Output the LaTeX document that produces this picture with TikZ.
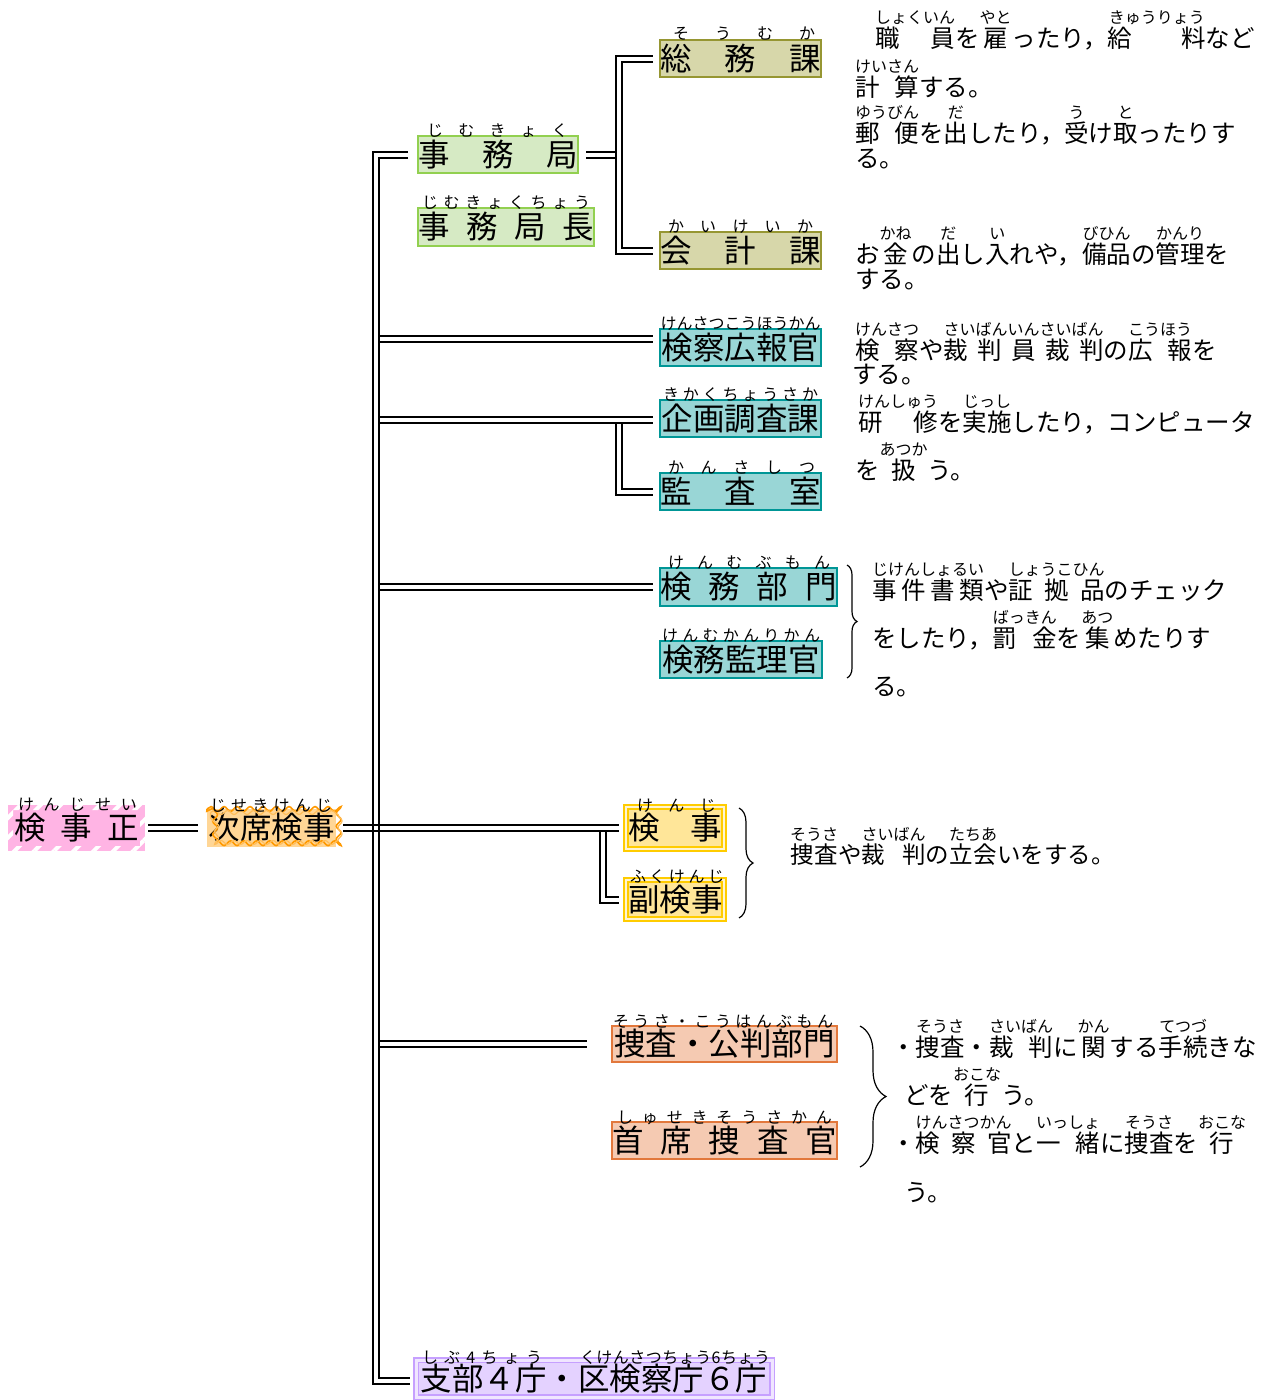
\documentclass[tikz,border=0pt]{standalone}
\usepackage{fontspec}
\setmainfont{Noto Sans CJK JP}
\usetikzlibrary{calc,decorations.pathmorphing,decorations.pathreplacing,patterns.meta}
\definecolor{gfill}{RGB}{214,234,196}
\definecolor{gline}{RGB}{146,208,80}
\definecolor{kfill}{RGB}{215,215,170}
\definecolor{kline}{RGB}{150,150,50}
\definecolor{tfill}{RGB}{153,214,214}
\definecolor{tline}{RGB}{0,150,150}
\definecolor{yline}{RGB}{255,204,0}
\definecolor{yfill}{RGB}{255,230,153}
\definecolor{ymid}{RGB}{255,244,210}
\definecolor{ofill}{RGB}{245,202,178}
\definecolor{oline}{RGB}{226,120,60}
\definecolor{pfill}{RGB}{228,210,255}
\definecolor{pline}{RGB}{198,160,255}
\definecolor{pmid}{RGB}{240,230,255}
\definecolor{pnkfill}{RGB}{255,180,228}
\definecolor{jfill}{RGB}{255,214,150}
\definecolor{jline}{RGB}{255,153,0}
\definecolor{jlinetwo}{RGB}{255,190,90}
\newcommand\labfont{\fontsize{31.5pt}{31.5pt}\selectfont}
\newcommand\rubyfont{\fontsize{16pt}{16pt}\selectfont}
\newcommand\descfont{\fontsize{24.5pt}{24.5pt}\selectfont}
\newcommand\descfontb{\fontsize{23.5pt}{23.5pt}\selectfont}
% \rbx{width}{base with \hfill}{ruby}
\newcommand\rbx[3]{\hbox to #1pt{\rlap{\raise23.7pt\hbox to #1pt{\hss\rubyfont #3\hss}}#2}}
\newcommand\mkbox[8]{\node[#6, minimum width={#4-#2-2*#7}, minimum height={#5-#3-2*#7}] (#1) at ({(#2+#4)/2},{(#3+#5)/2}) {#8};}
\tikzset{
 lab/.style={inner sep=0pt, outer sep=0pt, font=\labfont, text height=27.7pt, text depth=3.8pt},
 gbox/.style={lab, fill=gfill, draw=gline, line width=2pt},
 kbox/.style={lab, fill=kfill, draw=kline, line width=2pt},
 tbox/.style={lab, fill=tfill, draw=tline, line width=2pt},
 obox/.style={lab, fill=ofill, draw=oline, line width=2pt},
 ybox/.style={lab, fill=yfill, draw=yline, line width=2pt, double=ymid, double distance=2pt},
 pbox/.style={lab, fill=pfill, draw=pline, line width=1.5pt, double=pmid, double distance=3pt},
 pkbox/.style={lab, fill=pnkfill},
 jbox/.style={lab, fill=jfill},
 rb/.style={inner sep=0pt, font=\rubyfont, text height=14.1pt, text depth=1.9pt},
 desc/.style={anchor=base west, inner sep=0pt, yshift=-9.3pt, font=\descfont},
 descb/.style={anchor=base west, inner sep=0pt, yshift=-8.9pt, font=\descfontb},
 dbl/.style={draw=black, line width=2pt, double=white, double distance=4pt},
 sgl/.style={draw=black, line width=2pt},
 brc/.style={draw=black, line width=1.2pt, decorate, decoration={brace, amplitude=#1}},
 wave/.style={decorate, decoration={snake, segment length=13pt, amplitude=#1}},
}
\begin{document}
\begin{tikzpicture}[x=1pt,y=-1pt]
\useasboundingbox (0,0) rectangle (1267,1400);
\fill[white] (0,0) rectangle (1267,1400);
% boxes
\mkbox{ksei}{8}{805}{145}{851}{pkbox}{0}{\makebox[125pt][s]{検\hfill 事\hfill 正}}
\fill[pattern={Lines[angle=45,distance=14pt,line width=4pt]}, pattern color=white, even odd rule] (ksei.north west) rectangle (ksei.south east) ($(ksei.north west)+(5,5)$) rectangle ($(ksei.south east)+(-5,-5)$);
\mkbox{jiseki}{207}{809}{336}{847}{jbox}{0}{\makebox[128pt][s]{\hfil 次席検事\hfil}}
\draw[jline, line width=1.6pt, wave=2.4pt] (jiseki.north west) -- (jiseki.north east) -- (jiseki.south east) -- (jiseki.south west) -- cycle;
\draw[jlinetwo, line width=1.2pt, wave=2pt] ($(jiseki.north west)+(3.5,3.5)$) -- ($(jiseki.north east)+(-3.5,3.5)$) -- ($(jiseki.south east)+(-3.5,-3.5)$) -- ($(jiseki.south west)+(3.5,-3.5)$) -- cycle;
\mkbox{jimu}{417}{135}{579}{174}{gbox}{1}{\makebox[160pt][s]{事\hfill 務\hfill 局}}
\mkbox{jimucho}{417}{207}{595}{247}{gbox}{1}{\makebox[176pt][s]{事\hfill 務\hfill 局\hfill 長}}
\mkbox{soumu}{659}{39}{822}{78}{kbox}{1}{\makebox[161pt][s]{総\hfill 務\hfill 課}}
\mkbox{kaikei}{659}{231}{822}{270}{kbox}{1}{\makebox[161pt][s]{会\hfill 計\hfill 課}}
\mkbox{kouhou}{659}{328}{822}{367}{tbox}{1}{\makebox[161pt][s]{\hfil 検察広報官\hfil}}
\mkbox{kikaku}{659}{399}{822}{438}{tbox}{1}{\makebox[161pt][s]{\hfil 企画調査課\hfil}}
\mkbox{kansa}{659}{472}{822}{511}{tbox}{1}{\makebox[161pt][s]{監\hfill 査\hfill 室}}
\mkbox{kenmu}{659}{567}{838}{607}{tbox}{1}{\makebox[177pt][s]{検\hfill 務\hfill 部\hfill 門}}
\mkbox{kanri}{659}{640}{823}{679}{tbox}{1}{\makebox[162pt][s]{\hfil 検務監理官\hfil}}
\mkbox{kenji}{623}{804}{727}{852}{ybox}{3}{\makebox[94pt][s]{検\hfill 事}}
\mkbox{fuku}{623}{877}{727}{922}{ybox}{3}{\makebox[94pt][s]{\hfil 副検事\hfil}}
\mkbox{sousa}{611}{1025}{838}{1063}{obox}{1}{\makebox[225pt][s]{\hfil 捜査・公判部門\hfil}}
\mkbox{shuseki}{611}{1121}{838}{1160}{obox}{1}{\makebox[225pt][s]{首\hfill 席\hfill 捜\hfill 査\hfill 官}}
\mkbox{shibu}{413}{1357}{775}{1400}{pbox}{3}{\makebox[352pt][s]{\hfil 支部４庁・区検察庁６庁\hfil}}
% box ruby
\node[rb] (r1) at (77.5,804) {\makebox[119pt][s]{け\hfill ん\hfill じ\hfill せ\hfill い}};
\node[rb] (r2) at (271,805) {\makebox[122pt][s]{じ\hfill せ\hfill き\hfill け\hfill ん\hfill じ}};
\node[rb] (r3) at (497.5,130) {\makebox[141pt][s]{じ\hfill む\hfill き\hfill ょ\hfill く}};
\node[rb] (r4) at (506,202) {\makebox[168pt][s]{じ\hfill む\hfill き\hfill ょ\hfill く\hfill ち\hfill ょ\hfill う}};
\node[rb] (r5) at (744,33) {\makebox[142pt][s]{そ\hfill う\hfill む\hfill か}};
\node[rb] (r6) at (740.5,226) {\makebox[145pt][s]{か\hfill い\hfill け\hfill い\hfill か}};
\node[rb] (r7) at (740.5,323) {\makebox[160pt][s]{\hfil けんさつこうほうかん\hfil}};
\node[rb] (r8) at (740.5,394) {\makebox[155pt][s]{き\hfill か\hfill く\hfill ち\hfill ょ\hfill う\hfill さ\hfill か}};
\node[rb] (r9) at (741.5,467) {\makebox[147pt][s]{か\hfill ん\hfill さ\hfill し\hfill つ}};
\node[rb] (r10) at (749,562) {\makebox[162pt][s]{け\hfill ん\hfill む\hfill ぶ\hfill も\hfill ん}};
\node[rb] (r11) at (741,635) {\makebox[158pt][s]{け\hfill ん\hfill む\hfill か\hfill ん\hfill り\hfill か\hfill ん}};
\node[rb] (r12) at (676.5,805) {\makebox[79pt][s]{け\hfill ん\hfill じ}};
\node[rb] (r13) at (677,876) {\makebox[94pt][s]{ふ\hfill く\hfill け\hfill ん\hfill じ}};
\node[rb] (r14) at (723,1021) {\makebox[220pt][s]{そ\hfill う\hfill さ\hfill ・\hfill こ\hfill う\hfill は\hfill ん\hfill ぶ\hfill も\hfill ん}};
\node[rb] (r15) at (724.5,1117) {\makebox[215pt][s]{し\hfill ゅ\hfill せ\hfill き\hfill そ\hfill う\hfill さ\hfill か\hfill ん}};
\node[rb] (r16) at (482,1357) {\makebox[120pt][s]{し\hfill ぶ\hfill 4\hfill ち\hfill ょ\hfill う}};
\node[rb] (r17) at (675,1357) {\makebox[190pt][s]{く\hfill け\hfill ん\hfill さ\hfill つ\hfill ち\hfill ょ\hfill う\hfill 6\hfill ち\hfill ょ\hfill う}};
% descriptions
\node[desc] (d1) at (855,38) {\hspace*{20pt}\rbx{80}{職\hfill 員}{しょくいん}を\rbx{32}{\hfil 雇\hfil}{やと}ったり，\rbx{98}{給\hfill 料}{きゅうりょう}など};
\node[desc] (d2) at (855,87) {\rbx{64}{計\hfill 算}{けいさん}する。};
\node[desc] (d3) at (855,133) {\rbx{64}{郵\hfill 便}{ゆうびん}を\rbx{24.5}{\hfil 出\hfil}{だ}したり，\rbx{24.5}{\hfil 受\hfil}{う}け\rbx{24.5}{\hfil 取\hfil}{と}ったりす};
\node[desc] (d4) at (855,158) {る。};
\node[desc] (d5) at (855,254) {お\rbx{32}{\hfil 金\hfil}{かね}の\rbx{24.5}{\hfil 出\hfil}{だ}し\rbx{24.5}{\hfil 入\hfil}{い}れや，\rbx{49}{備\hfill 品}{びひん}の\rbx{49}{管\hfill 理}{かんり}を};
\node[desc] (d6) at (855,279) {する。};
\node[desc] (d7) at (855,350) {\rbx{64}{検\hfill 察}{けんさつ}や\rbx{160}{裁\hfill 判\hfill 員\hfill 裁\hfill 判}{さいばんいんさいばん}の\rbx{64}{広\hfill 報}{こうほう}を};
\node[desc] (d8) at (852,374) {する。};
\node[desc] (d9) at (858,422) {\rbx{80}{研\hfill 修}{けんしゅう}を\rbx{49}{実\hfill 施}{じっし}したり，コンピュータ};
\node[desc] (d10) at (855,470) {を\rbx{48}{\hfil 扱\hfil}{あつか}う。};
\node[desc] (d11) at (872,590) {\rbx{112}{事\hfill 件\hfill 書\hfill 類}{じけんしょるい}や\rbx{96}{証\hfill 拠\hfill 品}{しょうこひん}のチェック};
\node[desc] (d12) at (872,638) {をしたり，\rbx{64}{罰\hfill 金}{ばっきん}を\rbx{32}{\hfil 集\hfil}{あつ}めたりす};
\node[desc] (d13) at (872,686) {る。};
\node[descb] (d14) at (790,855) {\rbx{48}{捜\hfill 査}{そうさ}や\rbx{64}{裁\hfill 判}{さいばん}の\rbx{48}{立\hfill 会}{たちあ}いをする。};
\node[desc] (d15) at (891,1047) {・\rbx{49}{捜\hfill 査}{そうさ}・\rbx{64}{裁\hfill 判}{さいばん}に\rbx{32}{\hfil 関\hfil}{かん}する\rbx{49}{手\hfill 続}{てつづ}きな};
\node[desc] (d16) at (904,1095) {どを\rbx{48}{\hfil 行\hfil}{おこな}う。};
\node[desc] (d17) at (891,1143) {・\rbx{96}{検\hfill 察\hfill 官}{けんさつかん}と\rbx{64}{一\hfill 緒}{いっしょ}に\rbx{49}{捜\hfill 査}{そうさ}を\rbx{48}{\hfil 行\hfil}{おこな}};
\node[desc] (d18) at (904,1192) {う。};
% braces
\coordinate (bA1) at (847,565); \coordinate (bA2) at (847,678);
\draw[brc=10pt] (bA1) -- (bA2);
\coordinate (bB1) at (739,808); \coordinate (bB2) at (739,918);
\draw[brc=14pt] (bB1) -- (bB2);
\coordinate (bC1) at (860,1026); \coordinate (bC2) at (860,1167);
\draw[brc=26pt] (bC1) -- (bC2);
% connectors
\coordinate (tk) at (376,0);
\coordinate (tkr) at (380,0);
\coordinate (jx) at (616,0);
\draw[dbl] ([xshift=-10pt]jimu.west) -| ($(tk |- shibu.west)+(0,2.5)$) -- ($(shibu.west)+(-6,2.5)$);
\draw[dbl] ($(tkr |- kouhou.west)+(0,-8.5)$) -- ($(kouhou.west)+(-7,-8.5)$);
\draw[dbl] ($(tkr |- kikaku.west)+(0,1.5)$) -- ($(kikaku.west)+(-7,1.5)$);
\draw[dbl] ($(kansa.west)+(-41,-67.5)$) |- ($(kansa.west)+(-7,0)$);
\draw[dbl] (tkr |- kenmu.west) -- ($(kenmu.west)+(-7,0)$);
\draw[dbl] (tkr |- sousa.west) -- ($(sousa.west)+(-25,0)$);
\draw[dbl] ([xshift=8pt]jimu.east) -- (jimu.east -| jx);
\draw[dbl] ($(soumu.west)+(-7,0)$) -| ($(kaikei.west)+(-41,0)$) -- ($(kaikei.west)+(-7,0)$);
\draw[dbl] ($(ksei.east)+(3,0)$) -- ($(jiseki.west)+(-9,0)$);
\draw[sgl] ($(jiseki.east)+(7,-3)$) -- ($(kenji.west)+(-7,-3)$);
\draw[sgl] ($(jiseki.east)+(7,3)$) -- ($(kenji.west)+(-7,3)$);
\draw[dbl] ($(fuku.west)+(-23,-67.5)$) |- ($(fuku.west)+(-7,0)$);
\end{tikzpicture}
\end{document}
